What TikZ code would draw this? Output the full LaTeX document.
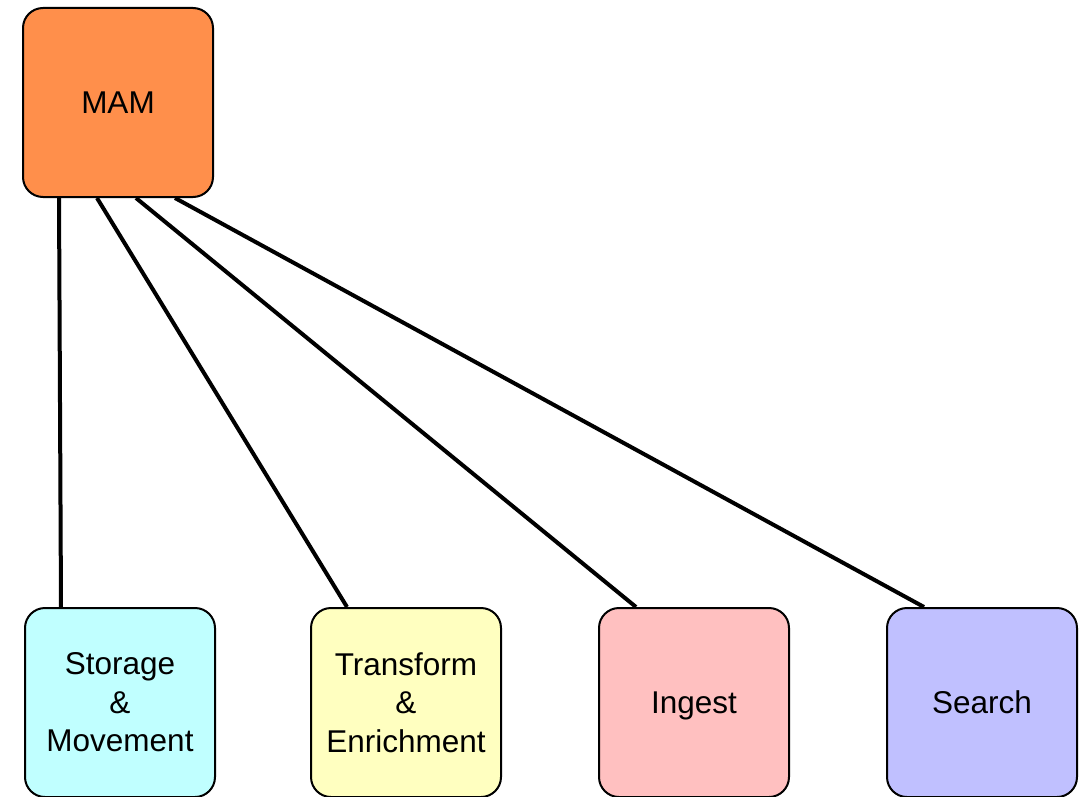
\documentclass[tikz,border=0pt]{standalone}
\usepackage{fontspec}
\setmainfont{Liberation Sans}
\usetikzlibrary{backgrounds}
\definecolor{mamorange}{RGB}{255,143,75}
\definecolor{storecyan}{RGB}{192,255,255}
\definecolor{transyellow}{RGB}{255,255,192}
\definecolor{ingestpink}{RGB}{255,192,192}
\definecolor{searchblue}{RGB}{192,192,255}
\begin{document}
\begin{tikzpicture}[x=1pt,y=-1pt,
  block/.style={draw=black, line width=2pt, rounded corners=20pt,
    minimum width=190pt, minimum height=189pt, inner sep=0pt,
    align=center, font=\fontsize{31.5}{38.5}\selectfont},
  oneline/.style={text height=22.55pt, text depth=0pt},
  link/.style={line width=4pt, draw=black}]
  \useasboundingbox (0,0) rectangle (1089,797);
  % top-level system
  \node[block, oneline, fill=mamorange] (mam) at (118,102.5) {MAM};
  % subsystems
  \node[block, fill=storecyan]   (sto) at (120,702.5) {Storage\\\&\\Movement};
  \node[block, fill=transyellow] (tra) at (406,702.5) {Transform\\\&\\Enrichment};
  \node[block, oneline, fill=ingestpink] (ing) at (694,702.5) {Ingest};
  \node[block, oneline, fill=searchblue] (sea) at (982,702.5) {Search};
  % connectors behind the boxes
  \begin{pgfonlayer}{background}
    \draw[link] ([xshift=37pt]mam.south west)  -- ([xshift=37pt]sto.north west);
    \draw[link] ([xshift=75pt]mam.south west)  -- ([xshift=37pt]tra.north west);
    \draw[link] ([xshift=114pt]mam.south west) -- ([xshift=38pt]ing.north west);
    \draw[link] ([xshift=153pt]mam.south west) -- ([xshift=38pt]sea.north west);
  \end{pgfonlayer}
\end{tikzpicture}
\end{document}
